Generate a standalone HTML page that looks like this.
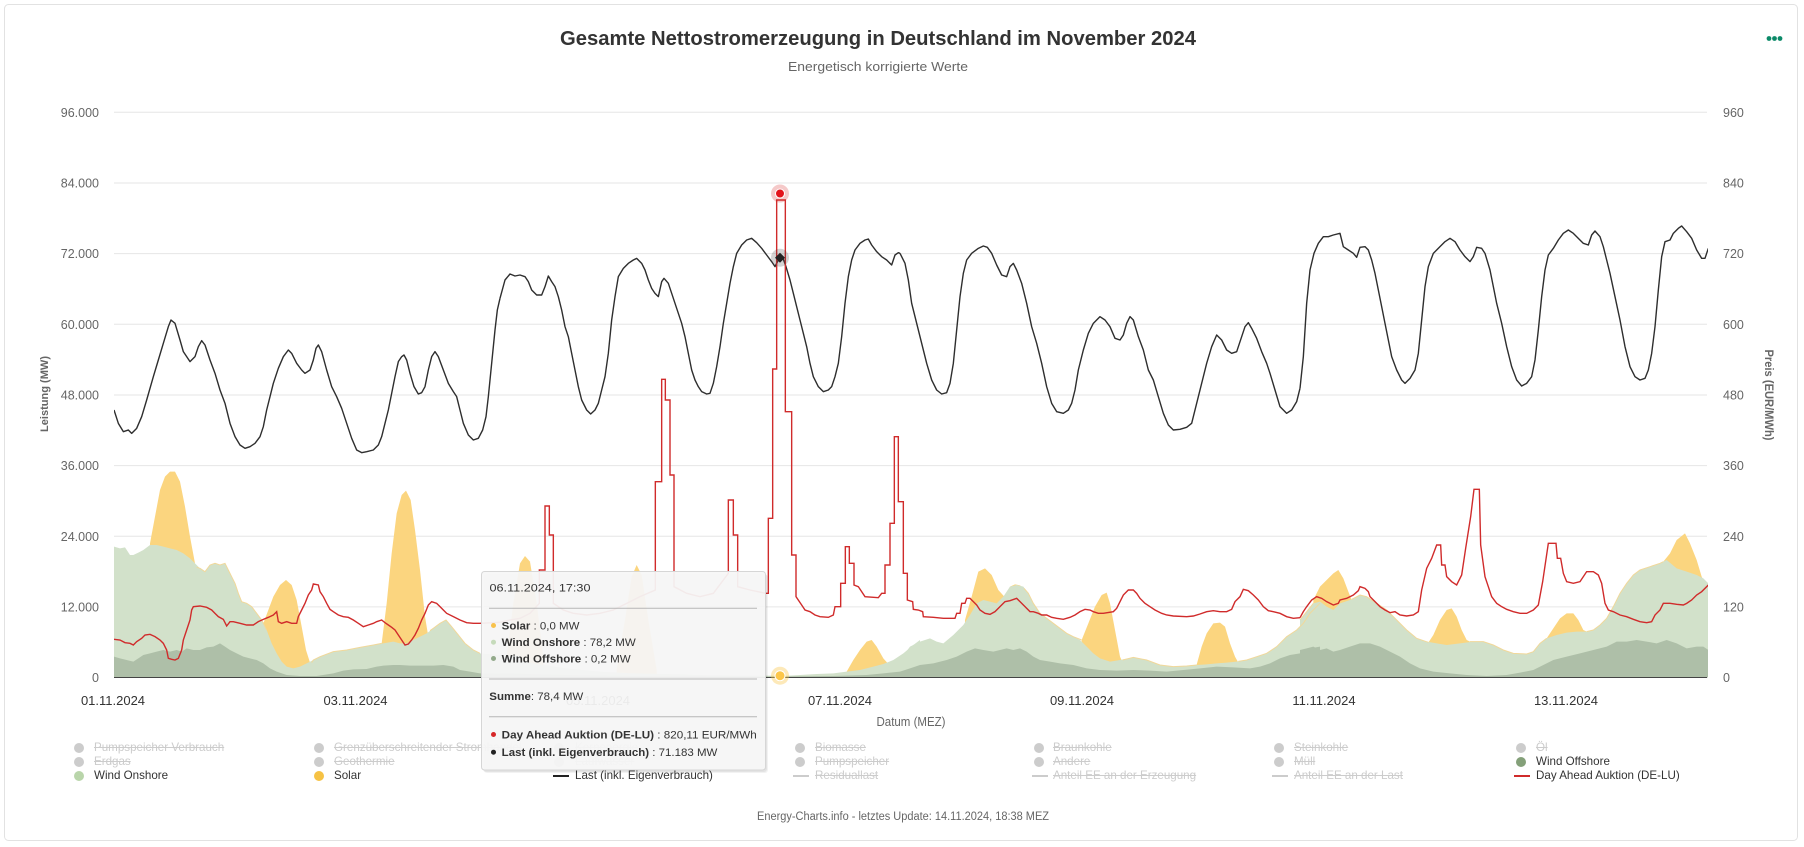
<!DOCTYPE html>
<html><head><meta charset="utf-8">
<style>
html,body{margin:0;padding:0;}
body{width:1804px;height:847px;overflow:hidden;background:#fff;position:relative;font-family:"Liberation Sans",Arial,sans-serif;}
.lg{position:absolute;font-size:11.6px;line-height:14px;white-space:nowrap;color:#333;}
.h{color:#cccccc;text-decoration:line-through;}
.dot{position:absolute;width:10px;height:10px;border-radius:50%;}
.ln{position:absolute;width:16px;height:2px;}
</style></head><body>
<svg width="1804" height="847" style="position:absolute;left:0;top:0" xmlns="http://www.w3.org/2000/svg" font-family="Liberation Sans, Arial, sans-serif">
<defs><clipPath id="pc"><rect x="114" y="100" width="1594" height="578"/></clipPath></defs>
<rect x="4.5" y="4.5" width="1793" height="836" rx="4" fill="#fff" stroke="#e2e2e2"/>
<text x="878" y="45" text-anchor="middle" font-size="20" font-weight="bold" fill="#333" textLength="636" lengthAdjust="spacingAndGlyphs">Gesamte Nettostromerzeugung in Deutschland im November 2024</text>
<text x="878" y="71" text-anchor="middle" font-size="13" fill="#666" textLength="180" lengthAdjust="spacingAndGlyphs">Energetisch korrigierte Werte</text>
<circle cx="1769" cy="38.5" r="2.4" fill="#0b8a68"/><circle cx="1774.5" cy="38.5" r="2.4" fill="#0b8a68"/><circle cx="1780" cy="38.5" r="2.4" fill="#0b8a68"/>
<g stroke="#e6e6e6" stroke-width="1">
<line x1="114" x2="1707" y1="112.3" y2="112.3"/><line x1="114" x2="1707" y1="183" y2="183"/><line x1="114" x2="1707" y1="253.6" y2="253.6"/><line x1="114" x2="1707" y1="324.3" y2="324.3"/><line x1="114" x2="1707" y1="395" y2="395"/><line x1="114" x2="1707" y1="465.6" y2="465.6"/><line x1="114" x2="1707" y1="536.3" y2="536.3"/><line x1="114" x2="1707" y1="606.9" y2="606.9"/>
</g>
<g font-size="12.5" fill="#666" text-anchor="end">
<text x="99" y="116.8">96.000</text><text x="99" y="187.5">84.000</text><text x="99" y="258.1">72.000</text><text x="99" y="328.8">60.000</text><text x="99" y="399.5">48.000</text><text x="99" y="470.1">36.000</text><text x="99" y="540.8">24.000</text><text x="99" y="611.4">12.000</text><text x="99" y="682">0</text>
</g>
<g font-size="12.5" fill="#666">
<text x="1723" y="116.8">960</text><text x="1723" y="187.5">840</text><text x="1723" y="258.1">720</text><text x="1723" y="328.8">600</text><text x="1723" y="399.5">480</text><text x="1723" y="470.1">360</text><text x="1723" y="540.8">240</text><text x="1723" y="611.4">120</text><text x="1723" y="682">0</text>
</g>
<text transform="translate(48,394) rotate(-90)" text-anchor="middle" font-size="11" font-weight="bold" fill="#666" textLength="76" lengthAdjust="spacingAndGlyphs">Leistung (MW)</text>
<text transform="translate(1765,395) rotate(90)" text-anchor="middle" font-size="11.5" font-weight="bold" fill="#666" textLength="91" lengthAdjust="spacingAndGlyphs">Preis (EUR/MWh)</text>

<g clip-path="url(#pc)">
<g fill="#fbd57f">
<g transform="translate(100,170) scale(0.333333)">
<polygon points="150,1522 150,1120 165,1040 180,960 195,920 210,905 225,905 240,935 255,1010 270,1100 285,1180 290,1522"/>
<polygon points="490,1522 490,1360 505,1320 520,1280 540,1245 558,1230 575,1245 590,1290 605,1370 618,1440 630,1478 635,1522"/>
<polygon points="845,1522 845,1420 860,1300 875,1150 890,1030 905,975 918,962 932,990 945,1080 960,1200 975,1340 985,1400 990,1522"/>
</g>
<g transform="translate(500,170) scale(0.333333)">
<polygon points="20,1522 20,1460 40,1300 60,1180 75,1158 90,1175 110,1300 130,1460 130,1522"/>
<polygon points="350,1522 350,1500 375,1350 395,1220 410,1185 425,1215 445,1350 470,1500 470,1522"/>
<polygon points="1040,1522 1040,1505 1060,1470 1080,1440 1100,1415 1115,1410 1130,1430 1150,1465 1165,1482 1165,1522"/>
</g>
<g transform="translate(900,170) scale(0.333333)">
<polygon points="195,1522 195,1350 215,1280 235,1205 255,1195 275,1215 295,1260 315,1282 330,1250 345,1243 360,1246 372,1255 372,1522"/>
<polygon points="545,1522 545,1410 565,1360 585,1310 605,1275 620,1268 630,1300 645,1380 660,1460 668,1478 668,1522"/>
<polygon points="890,1522 890,1484 905,1430 920,1390 940,1360 960,1358 975,1370 990,1420 1005,1460 1015,1478 1015,1522"/>
</g>
<g transform="translate(1300,170) scale(0.333333)">
<polygon points="40,1522 40,1290 60,1250 80,1230 100,1210 115,1200 130,1225 145,1265 155,1290 155,1522"/>
<polygon points="385,1522 385,1418 400,1395 420,1350 440,1320 455,1315 470,1340 485,1380 500,1410 510,1415 510,1522"/>
<polygon points="740,1522 740,1405 760,1375 780,1345 800,1330 820,1330 835,1350 850,1380 860,1385 860,1522"/>
<polygon points="1090,1522 1090,1175 1110,1150 1130,1110 1155,1090 1170,1120 1190,1170 1205,1220 1215,1240 1215,1522"/>
</g>
</g>
<g fill="#d2e1ca">
<g transform="translate(100,170) scale(0.333333)"><polygon points="42,1522 42,1130 60,1135 75,1132 90,1155 100,1155 115,1148 130,1140 150,1125 170,1125 190,1130 210,1135 230,1140 250,1150 270,1165 285,1180 300,1195 315,1205 330,1185 345,1180 360,1185 375,1180 385,1200 395,1220 405,1240 415,1270 425,1295 440,1300 455,1310 470,1330 485,1350 500,1380 515,1420 530,1450 545,1475 560,1490 580,1495 600,1490 620,1480 640,1470 660,1460 700,1445 740,1440 780,1432 820,1425 850,1420 880,1415 900,1420 920,1420 940,1410 960,1400 980,1390 1000,1375 1020,1360 1038,1350 1055,1370 1075,1395 1095,1420 1120,1440 1140,1450 1200,1455 1260,1458 1260,1522"/></g>
<g transform="translate(500,170) scale(0.333333)"><polygon points="0,1522 0,1460 100,1480 200,1495 300,1505 400,1510 500,1512 600,1515 700,1517 800,1517 850,1518 900,1515 950,1512 1000,1510 1040,1505 1080,1500 1120,1490 1150,1482 1180,1470 1210,1450 1240,1425 1260,1410 1260,1522"/></g>
<g transform="translate(900,170) scale(0.333333)"><polygon points="0,1522 0,1470 30,1430 60,1415 90,1405 110,1415 130,1420 160,1395 190,1365 210,1335 230,1300 250,1290 270,1295 290,1300 310,1280 330,1250 350,1245 370,1250 385,1270 400,1300 420,1330 440,1345 460,1360 480,1375 500,1390 520,1400 540,1410 560,1430 580,1450 600,1465 630,1475 660,1470 700,1462 740,1470 780,1485 820,1490 860,1488 890,1485 920,1483 950,1480 980,1478 1010,1475 1040,1470 1070,1460 1100,1450 1130,1430 1160,1400 1190,1380 1210,1360 1230,1330 1260,1300 1260,1522"/></g>
<g transform="translate(1300,170) scale(0.333333)"><polygon points="0,1522 0,1350 20,1325 40,1300 60,1295 80,1310 100,1320 120,1300 150,1290 180,1275 200,1280 230,1300 260,1320 290,1350 320,1380 350,1405 380,1415 410,1420 440,1425 480,1420 520,1415 550,1415 580,1425 610,1440 640,1450 680,1452 700,1445 720,1420 740,1405 770,1395 800,1388 830,1385 860,1385 880,1380 900,1365 920,1345 940,1310 960,1270 980,1240 1000,1215 1020,1200 1050,1190 1080,1180 1100,1170 1130,1195 1160,1205 1190,1215 1210,1225 1225,1240 1225,1522"/></g>
</g>
<g fill="none" stroke="#f1d89a" stroke-width="1">
<g transform="translate(100,170) scale(0.333333)"><polyline vector-effect="non-scaling-stroke" points="290,1192 300,1195 315,1205 330,1185 345,1180 360,1185 375,1180 385,1200 395,1220 405,1240 415,1270 425,1295 440,1300 455,1310 470,1330 485,1350 500,1380"/><polyline vector-effect="non-scaling-stroke" points="635,1478 640,1470 660,1460 700,1445 740,1440 780,1432 820,1425 845,1420"/><polyline vector-effect="non-scaling-stroke" points="990,1382 1000,1375 1020,1360 1038,1350 1055,1370 1075,1395 1095,1420 1120,1440 1140,1450"/></g>
<g transform="translate(900,170) scale(0.333333)"><polyline vector-effect="non-scaling-stroke" points="372,1255 385,1270 400,1300 420,1330 440,1345 460,1360 480,1375 500,1390 520,1400 545,1410"/><polyline vector-effect="non-scaling-stroke" points="668,1470 700,1462 740,1470 780,1485 820,1490 860,1488 890,1485"/><polyline vector-effect="non-scaling-stroke" points="1015,1474 1040,1470 1070,1460 1100,1450 1130,1430 1160,1400 1190,1380 1210,1360 1230,1330 1260,1300"/></g>
<g transform="translate(1300,170) scale(0.333333)"><polyline vector-effect="non-scaling-stroke" points="0,1350 20,1325 40,1300"/><polyline vector-effect="non-scaling-stroke" points="155,1288 180,1275 200,1280 230,1300 260,1320 290,1350 320,1380 350,1405 385,1417"/><polyline vector-effect="non-scaling-stroke" points="510,1415 550,1415 580,1425 610,1440 640,1450 680,1452 700,1445 720,1420 740,1405"/><polyline vector-effect="non-scaling-stroke" points="860,1385 880,1380 900,1365 920,1345 940,1310 960,1270 980,1240 1000,1215 1020,1200 1050,1190 1080,1180 1090,1175"/></g>
</g>
<g fill="#aebfa8">
<g transform="translate(100,170) scale(0.333333)"><polygon points="42,1522 42,1460 60,1465 80,1470 100,1475 115,1465 130,1455 150,1450 170,1445 190,1440 210,1445 230,1440 245,1445 260,1435 280,1440 300,1440 320,1432 340,1430 360,1420 375,1430 390,1440 410,1450 430,1460 450,1465 470,1470 490,1480 510,1495 530,1505 560,1515 600,1518 650,1518 700,1510 730,1502 760,1498 800,1497 830,1490 850,1487 880,1485 900,1485 930,1487 960,1487 1000,1487 1030,1485 1060,1490 1080,1500 1110,1505 1140,1510 1260,1512 1260,1522"/></g>
<g transform="translate(500,170) scale(0.333333)"><polygon points="0,1522 0,1510 200,1515 400,1518 800,1520 1000,1518 1100,1515 1150,1510 1200,1505 1260,1500 1260,1522"/></g>
<g transform="translate(900,170) scale(0.333333)"><polygon points="0,1522 0,1505 30,1495 60,1485 100,1480 140,1470 170,1460 200,1445 225,1435 250,1440 280,1445 300,1440 320,1435 340,1440 360,1435 380,1445 400,1460 420,1470 450,1475 480,1480 520,1485 560,1495 600,1500 650,1502 700,1500 750,1502 800,1505 850,1500 900,1495 950,1490 1000,1492 1050,1495 1080,1490 1110,1480 1140,1465 1170,1455 1200,1450 1230,1435 1260,1430 1260,1522"/></g>
<g transform="translate(1300,170) scale(0.333333)"><polygon points="0,1522 0,1440 20,1435 40,1430 60,1440 80,1435 100,1445 120,1440 150,1430 180,1420 210,1420 240,1430 270,1445 300,1460 330,1480 360,1495 400,1505 450,1510 500,1515 560,1518 620,1515 660,1508 700,1500 730,1485 760,1470 800,1460 840,1450 880,1440 920,1430 950,1415 980,1415 1010,1410 1040,1415 1070,1420 1100,1410 1130,1420 1160,1435 1190,1430 1210,1430 1225,1440 1225,1522"/></g>
</g>
<g fill="none" stroke="#2e2e2e" stroke-width="1.4" stroke-linejoin="round">
<g transform="translate(100,170) scale(0.333333)"><polyline vector-effect="non-scaling-stroke" points="42,720 55,760 70,785 85,780 95,790 110,775 125,740 140,690 160,620 175,570 190,520 205,470 213,450 225,460 240,510 250,545 270,575 285,560 295,530 305,512 315,525 330,570 345,610 360,660 375,700 390,760 405,800 420,825 435,835 450,830 465,820 480,800 490,770 500,720 510,680 520,640 535,595 550,560 565,540 575,550 590,580 605,600 615,610 630,600 640,570 648,535 655,525 665,545 680,600 695,650 710,680 725,715 740,760 755,805 770,840 785,848 800,845 820,840 835,825 845,800 855,760 865,720 875,670 885,620 895,575 905,560 912,555 920,570 930,610 942,650 955,672 965,668 975,650 985,600 995,560 1005,545 1015,560 1030,600 1045,640 1060,665 1070,680 1080,720 1090,760 1105,795 1120,810 1135,805 1148,780 1158,740 1165,680 1175,580 1185,480 1192,420 1200,385"/></g>
<g transform="translate(500,170) scale(0.333333)"><polyline vector-effect="non-scaling-stroke" points="0,385 15,330 30,312 45,318 60,315 75,320 85,335 95,360 110,375 125,375 135,350 145,318 155,335 165,350 175,380 185,420 195,470 205,500 215,550 225,600 235,650 245,690 260,720 272,732 285,720 295,700 305,660 315,620 325,550 335,450 345,380 355,320 370,295 385,280 400,270 410,265 425,280 435,300 445,330 455,355 465,370 475,380 485,335 492,325 505,340 515,370 525,400 535,430 545,460 555,500 565,550 575,600 585,630 595,650 605,665 620,672 630,670 640,640 650,590 660,530 670,460 680,400 690,340 700,290 710,250 725,225 740,210 755,205 770,218 785,235 800,255 815,275 825,290 835,270 848,262 858,290 870,330 880,370 890,410 900,450 910,490 920,530 930,580 940,620 955,650 970,665 985,660 995,650 1005,620 1015,580 1025,500 1035,400 1045,320 1055,270 1065,240 1080,220 1095,210 1105,207 1115,225 1130,245 1145,260 1160,270 1175,285 1185,255 1195,248 1200,250"/></g>
<g transform="translate(900,170) scale(0.333333)"><polyline vector-effect="non-scaling-stroke" points="0,250 15,280 25,330 35,400 50,460 65,520 80,580 95,630 110,660 125,672 140,668 150,640 160,580 170,480 180,380 190,310 200,270 215,250 235,235 250,228 262,232 275,250 290,285 305,315 320,320 330,290 340,280 350,300 365,340 380,400 395,470 410,520 425,580 440,650 455,700 470,725 490,730 505,720 515,700 525,660 535,600 550,540 565,490 580,460 600,440 615,450 630,470 645,505 660,510 670,495 680,460 690,440 700,450 715,500 730,540 745,600 760,630 775,680 790,730 805,765 820,780 840,778 860,772 875,760 890,700 905,640 920,580 935,530 950,495 965,510 980,540 995,550 1010,545 1025,500 1035,470 1045,458 1055,475 1070,505 1085,545 1100,580 1110,610 1125,660 1140,710 1160,730 1175,720 1190,695 1200,655"/></g>
<g transform="translate(1300,170) scale(0.333333)"><polyline vector-effect="non-scaling-stroke" points="0,655 10,560 20,400 30,300 42,250 55,220 70,200 85,200 100,195 120,190 130,230 145,240 160,250 170,262 180,232 195,230 205,240 215,270 225,310 235,360 245,410 255,460 265,510 275,560 290,600 305,630 315,640 330,625 345,600 355,550 365,450 375,350 385,290 400,250 420,230 435,215 450,205 465,215 480,240 495,260 510,275 520,260 530,232 545,235 555,250 570,300 580,350 590,400 605,460 620,530 635,590 650,630 665,648 680,640 695,620 705,570 715,480 725,380 735,300 745,255 760,235 775,210 790,190 805,180 820,190 835,205 850,220 865,225 875,195 885,183 900,200 910,230 920,270 930,310 945,380 960,450 975,530 990,590 1005,620 1020,630 1035,625 1045,600 1055,550 1065,470 1075,360 1085,260 1095,215 1110,210 1120,190 1135,175 1145,168 1160,185 1175,205 1190,240 1205,265 1215,265 1225,235"/></g>
</g>
<g fill="none" stroke="#d02b2b" stroke-width="1.4" stroke-linejoin="miter">
<g transform="translate(100,170) scale(0.333333)"><polyline vector-effect="non-scaling-stroke" points="42,1408 60,1410 75,1418 90,1420 100,1425 110,1415 125,1405 135,1395 150,1393 165,1400 180,1410 190,1420 200,1440 205,1465 215,1468 225,1470 235,1465 245,1440 250,1410 260,1380 270,1350 275,1320 280,1310 300,1308 320,1312 335,1320 345,1330 355,1340 370,1348 380,1368 390,1355 400,1355 420,1360 440,1365 460,1365 475,1355 490,1348 505,1342 520,1335 530,1325 535,1355 545,1360 560,1355 575,1360 590,1360 595,1340 605,1320 615,1300 625,1275 635,1260 640,1242 655,1245 660,1265 670,1280 680,1300 690,1318 700,1325 715,1335 730,1340 745,1342 760,1350 775,1360 790,1370 805,1365 820,1360 830,1355 845,1350 855,1358 865,1365 875,1372 885,1380 895,1395 905,1410 915,1425 925,1422 935,1410 945,1395 955,1375 965,1350 975,1330 985,1305 995,1295 1010,1300 1020,1310 1030,1320 1040,1330 1060,1340 1080,1350 1100,1358 1120,1360 1140,1360 1200,1357"/></g>
<g transform="translate(500,170) scale(0.333333)"><polyline vector-effect="non-scaling-stroke" points="0,1357 30,1350 60,1345 90,1330 118,1300 118,1200 135,1200 135,1008 148,1008 148,1095 160,1095 160,1300 190,1320 220,1330 260,1335 300,1330 340,1320 380,1300 420,1280 466,1260 466,935 485,935 485,628 496,628 496,690 510,690 510,915 522,915 522,1250 560,1270 600,1280 640,1270 685,1210 685,990 700,990 700,1095 713,1095 713,1250 750,1260 797,1270 805,1270 805,1045 818,1045 818,597 830,597 830,90 856,90 856,725 875,725 875,1155 888,1155 888,1280 905,1305 915,1320 930,1325 945,1335 960,1340 985,1342 1000,1335 1005,1310 1022,1310 1022,1240 1036,1240 1036,1130 1048,1130 1048,1180 1062,1180 1062,1245 1075,1250 1095,1280 1135,1283 1145,1270 1155,1270 1155,1185 1170,1185 1170,1060 1183,1060 1183,800 1195,800 1195,995 1200,995"/></g>
<g transform="translate(900,170) scale(0.333333)"><polyline vector-effect="non-scaling-stroke" points="0,995 10,995 10,1210 22,1210 22,1290 38,1295 40,1318 55,1320 68,1325 70,1340 100,1342 130,1345 165,1345 170,1330 180,1330 185,1300 195,1300 200,1285 210,1285 220,1295 230,1305 240,1320 255,1330 270,1333 285,1325 300,1310 315,1295 330,1292 350,1285 360,1295 375,1310 390,1325 400,1325 415,1330 425,1335 440,1335 455,1342 470,1345 490,1348 510,1342 525,1335 540,1325 555,1318 570,1320 580,1325 595,1330 610,1330 640,1325 650,1315 660,1295 670,1275 685,1260 700,1260 710,1270 720,1285 735,1300 750,1310 765,1320 785,1330 800,1335 820,1338 860,1340 880,1338 900,1332 920,1325 940,1322 960,1325 980,1325 995,1318 1005,1295 1020,1280 1030,1258 1045,1262 1060,1275 1075,1290 1090,1310 1105,1322 1120,1325 1140,1330 1160,1340 1180,1345 1200,1343"/></g>
<g transform="translate(1300,170) scale(0.333333)"><polyline vector-effect="non-scaling-stroke" points="0,1343 10,1325 20,1310 35,1290 50,1280 65,1285 80,1295 100,1305 115,1300 120,1290 140,1285 160,1275 175,1262 180,1250 195,1255 205,1265 210,1280 225,1295 240,1310 255,1320 270,1328 285,1325 300,1335 320,1338 340,1335 355,1325 365,1260 380,1195 395,1165 410,1125 422,1125 425,1185 435,1185 440,1220 455,1235 470,1245 485,1215 497,1135 512,1040 522,958 538,958 542,1125 555,1220 565,1250 575,1280 590,1300 605,1310 620,1318 640,1325 660,1330 680,1330 700,1320 715,1305 728,1235 745,1120 768,1120 772,1165 782,1165 790,1210 800,1235 820,1240 840,1235 860,1205 880,1205 895,1215 905,1240 915,1300 925,1320 940,1325 960,1335 980,1340 1000,1348 1020,1355 1040,1358 1055,1355 1065,1335 1080,1320 1090,1300 1110,1300 1130,1303 1150,1305 1160,1300 1175,1290 1190,1275 1205,1265 1225,1245"/></g>
</g>
</g>
<line x1="114" x2="1707" y1="677.5" y2="677.5" stroke="#444" stroke-width="1"/>
<g font-size="13" fill="#333" text-anchor="middle">
<text x="113" y="705">01.11.2024</text><text x="355.5" y="705">03.11.2024</text><text x="598" y="705">05.11.2024</text><text x="840" y="705">07.11.2024</text><text x="1082" y="705">09.11.2024</text><text x="1324" y="705">11.11.2024</text><text x="1566" y="705">13.11.2024</text>
</g>
<text x="911" y="726" text-anchor="middle" font-size="12.5" fill="#666" textLength="69" lengthAdjust="spacingAndGlyphs">Datum (MEZ)</text>
<text x="903" y="820" text-anchor="middle" font-size="11.5" fill="#666" textLength="292" lengthAdjust="spacingAndGlyphs">Energy-Charts.info - letztes Update: 14.11.2024, 18:38 MEZ</text>
<circle cx="780" cy="193.5" r="9" fill="rgba(214,39,40,0.25)"/>
<circle cx="780" cy="193.5" r="4.5" fill="#e3131b" stroke="#fff" stroke-width="1"/>
<circle cx="780" cy="257.7" r="9" fill="rgba(60,60,60,0.22)"/>
<polygon points="780,252.7 785,257.7 780,262.7 775,257.7" fill="#222"/>
<circle cx="780" cy="675.7" r="9" fill="rgba(250,200,80,0.4)"/>
<circle cx="780" cy="675.7" r="5" fill="#fcc64a" stroke="#fff" stroke-width="1"/>
</svg>

<div class="dot" style="left:74px;top:743px;background:#ccc"></div><div class="lg h" style="left:94px;top:741px">Pumpspeicher Verbrauch</div>
<div class="dot" style="left:314px;top:743px;background:#ccc"></div><div class="lg h" style="left:334px;top:741px">Grenzüberschreitender Stromhandel</div>
<div class="dot" style="left:554px;top:743px;background:#ccc"></div><div class="lg h" style="left:575px;top:741px">Kernenergie</div>
<div class="dot" style="left:795px;top:743px;background:#ccc"></div><div class="lg h" style="left:815px;top:741px">Biomasse</div>
<div class="dot" style="left:1034px;top:743px;background:#ccc"></div><div class="lg h" style="left:1053px;top:741px">Braunkohle</div>
<div class="dot" style="left:1274px;top:743px;background:#ccc"></div><div class="lg h" style="left:1294px;top:741px">Steinkohle</div>
<div class="dot" style="left:1516px;top:743px;background:#ccc"></div><div class="lg h" style="left:1536px;top:741px">Öl</div>

<div class="dot" style="left:74px;top:757px;background:#ccc"></div><div class="lg h" style="left:94px;top:755px">Erdgas</div>
<div class="dot" style="left:314px;top:757px;background:#ccc"></div><div class="lg h" style="left:334px;top:755px">Geothermie</div>
<div class="dot" style="left:554px;top:757px;background:#ccc"></div><div class="lg h" style="left:575px;top:755px">Laufwasser</div>
<div class="dot" style="left:795px;top:757px;background:#ccc"></div><div class="lg h" style="left:815px;top:755px">Pumpspeicher</div>
<div class="dot" style="left:1034px;top:757px;background:#ccc"></div><div class="lg h" style="left:1053px;top:755px">Andere</div>
<div class="dot" style="left:1274px;top:757px;background:#ccc"></div><div class="lg h" style="left:1294px;top:755px">Müll</div>
<div class="dot" style="left:1516px;top:757px;background:#84a079"></div><div class="lg" style="left:1536px;top:755px">Wind Offshore</div>

<div class="dot" style="left:74px;top:771px;background:#b9d5aa"></div><div class="lg" style="left:94px;top:769px">Wind Onshore</div>
<div class="dot" style="left:314px;top:771px;background:#f6c244"></div><div class="lg" style="left:334px;top:769px">Solar</div>
<div class="ln" style="left:553px;top:775px;background:#222"></div><div class="lg" style="left:575px;top:769px">Last (inkl. Eigenverbrauch)</div>
<div class="ln" style="left:793px;top:775px;background:#ccc"></div><div class="lg h" style="left:815px;top:769px">Residuallast</div>
<div class="ln" style="left:1032px;top:775px;background:#ccc"></div><div class="lg h" style="left:1053px;top:769px">Anteil EE an der Erzeugung</div>
<div class="ln" style="left:1272px;top:775px;background:#ccc"></div><div class="lg h" style="left:1294px;top:769px">Anteil EE an der Last</div>
<div class="ln" style="left:1514px;top:775px;background:#d02b2b"></div><div class="lg" style="left:1536px;top:769px">Day Ahead Auktion (DE-LU)</div>

<svg width="1804" height="847" style="position:absolute;left:0;top:0" xmlns="http://www.w3.org/2000/svg" font-family="Liberation Sans, Arial, sans-serif">
<rect x="484" y="574.5" width="284" height="198.5" rx="3" fill="rgba(0,0,0,0.05)"/>
<rect x="483" y="573.5" width="284" height="198.5" rx="3" fill="rgba(0,0,0,0.06)"/>
<rect x="481.5" y="571.5" width="284" height="198.5" rx="3" fill="rgba(247,247,247,0.94)" stroke="#d6d6d6" stroke-width="1"/>
<g font-size="11" fill="#333">
<text x="489.5" y="591.5" textLength="101" lengthAdjust="spacingAndGlyphs">06.11.2024, 17:30</text>
<line x1="489" x2="757" y1="608.3" y2="608.3" stroke="#b5b5b5" stroke-width="1"/>
<circle cx="493.5" cy="625.5" r="2.5" fill="#f8c24c"/>
<text x="501.7" y="629.3" textLength="77.7" lengthAdjust="spacingAndGlyphs"><tspan font-weight="bold">Solar</tspan> : 0,0 MW</text>
<circle cx="493.5" cy="642.2" r="2.5" fill="#c6dbbb"/>
<text x="501.7" y="646" textLength="134" lengthAdjust="spacingAndGlyphs"><tspan font-weight="bold">Wind Onshore</tspan> : 78,2 MW</text>
<circle cx="493.5" cy="658.5" r="2.5" fill="#93aa8b"/>
<text x="501.7" y="662.3" textLength="129" lengthAdjust="spacingAndGlyphs"><tspan font-weight="bold">Wind Offshore</tspan> : 0,2 MW</text>
<line x1="489" x2="757" y1="679" y2="679" stroke="#b5b5b5" stroke-width="1"/>
<text x="489.3" y="700" textLength="94" lengthAdjust="spacingAndGlyphs"><tspan font-weight="bold">Summe</tspan>: 78,4 MW</text>
<line x1="489" x2="757" y1="716.7" y2="716.7" stroke="#b5b5b5" stroke-width="1"/>
<circle cx="493.5" cy="734.5" r="2.5" fill="#d62728"/>
<text x="501.7" y="738.3" textLength="255" lengthAdjust="spacingAndGlyphs"><tspan font-weight="bold">Day Ahead Auktion (DE-LU)</tspan> : 820,11 EUR/MWh</text>
<circle cx="493.5" cy="752.2" r="2.5" fill="#222"/>
<text x="501.7" y="756" textLength="215.7" lengthAdjust="spacingAndGlyphs"><tspan font-weight="bold">Last (inkl. Eigenverbrauch)</tspan> : 71.183 MW</text>
</g>
</svg>
</body></html>
